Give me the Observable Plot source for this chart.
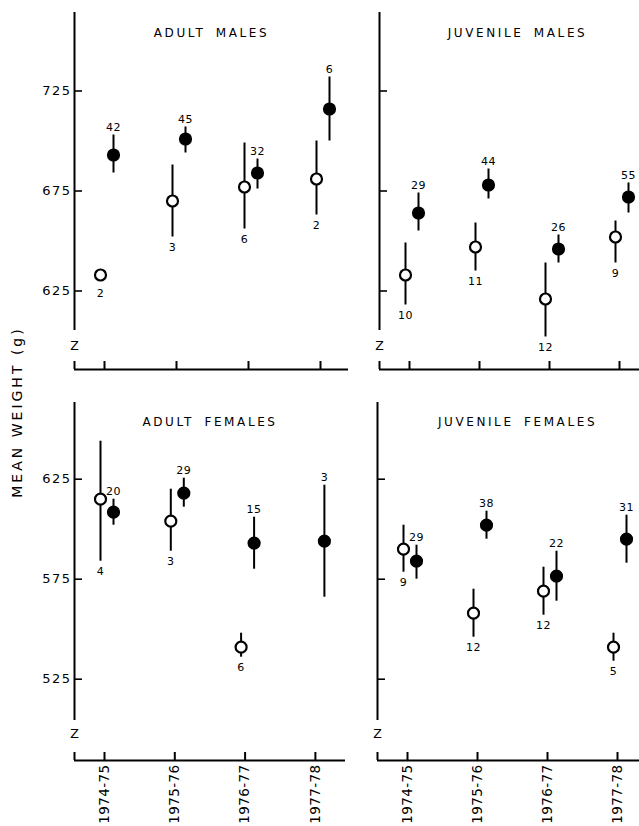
<!DOCTYPE html>
<html><head><meta charset="utf-8">
<script src="https://cdn.jsdelivr.net/npm/d3@7"></script>
<script src="https://cdn.jsdelivr.net/npm/@observablehq/plot@0.6"></script>
<style>
body{margin:0;background:#fff;}
#wrap{position:relative;width:639px;height:826px;overflow:hidden;font-family:"DejaVu Sans",sans-serif;color:#000;background:#fff;}
.panel{position:absolute;}
#ylab{position:absolute;left:17px;top:412px;transform:translate(-50%,-50%) rotate(-90deg);white-space:nowrap;font-size:14px;letter-spacing:3px;}
</style></head><body>
<div id="wrap"></div>
<script>
const years = ["1974-75", "1975-76", "1976-77", "1977-78"];
const panelTitles = ["ADULT MALES", "JUVENILE MALES", "ADULT FEMALES", "JUVENILE FEMALES"];
const yTicksTop = [625, 675, 725];
const yTicksBottom = [525, 575, 625];
const axisTitle = "MEAN WEIGHT (g)";

// Adult males — open circles
const amOpenMean = [633, 670, 677, 681];
const amOpenLow  = [633, 652, 656, 663];
const amOpenHigh = [633, 688, 699, 700];
const amOpenN    = [2, 3, 6, 2];
// Adult males — filled circles
const amFillMean = [693, 701, 684, 716];
const amFillLow  = [684, 694, 676, 700];
const amFillHigh = [703, 707, 691, 732];
const amFillN    = [42, 45, 32, 6];

// Juvenile males — open circles
const jmOpenMean = [633, 647, 621, 652];
const jmOpenLow  = [618, 635, 602, 639];
const jmOpenHigh = [649, 659, 639, 660];
const jmOpenN    = [10, 11, 12, 9];
// Juvenile males — filled circles
const jmFillMean = [664, 678, 646, 672];
const jmFillLow  = [655, 671, 639, 664];
const jmFillHigh = [674, 686, 653, 679];
const jmFillN    = [29, 44, 26, 55];

// Adult females — open circles
const afOpenMean = [615, 604, 541, null];
const afOpenLow  = [584, 589, 536, null];
const afOpenHigh = [644, 620, 548, null];
const afOpenN    = [4, 3, 6, null];
// Adult females — filled circles
const afFillMean = [608.5, 618, 593, 594];
const afFillLow  = [602, 611, 580, 566];
const afFillHigh = [615, 625.5, 606, 622];
const afFillN    = [20, 29, 15, 3];

// Juvenile females — open circles
const jfOpenMean = [590, 558, 569, 541];
const jfOpenLow  = [578.5, 546, 557, 534];
const jfOpenHigh = [602, 570, 581, 548];
const jfOpenN    = [9, 12, 12, 5];
// Juvenile females — filled circles
const jfFillMean = [584, 602, 576.5, 595];
const jfFillLow  = [575, 595, 564, 583];
const jfFillHigh = [592, 609, 589, 607];
const jfFillN    = [29, 38, 22, 31];

function rows(mean, low, high, n) {
  return years.map((y, i) => ({i, mean: mean[i], lo: low[i], hi: high[i], n: n[i]}))
    .filter(d => d.mean != null);
}

// pixel layout helpers (page px -> data value) for the top and bottom rows
const topVal = px => 675 + (190.5 - px) / 2;
const botVal = px => 575 + (578.7 - px) / 2;

const wrap = document.getElementById("wrap");

function spaceText(svg, size, spacing, wordSpacing) {
  svg.querySelectorAll(`g[font-size="${size}"] text`).forEach(t => {
    t.style.letterSpacing = spacing + "px";
    if (wordSpacing) t.style.wordSpacing = wordSpacing + "px";
  });
}

function panel(cfg) {
  const {open, fill, yTicks, left, top, width, height, mL, mR, mT, mB, xdom, ydom,
         lineEnd, breakAt, cornerTop, title, titleDx, titleDy, showY, showX} = cfg;
  const openOff = -4, fillOff = 9;
  const marks = [
    Plot.axisY(yTicks, {tickSize: -8, tickPadding: 11, strokeWidth: 1.6,
      tickFormat: showY ? d => String(d) : () => "", label: null, fontSize: 13}),
    Plot.axisX([0, 1, 2, 3], {tickSize: -8, tickPadding: 12, strokeWidth: 2,
      tickFormat: showX ? i => years[i] : () => "", tickRotate: showX ? -90 : 0, label: null, fontSize: 13.5}),
    Plot.ruleX([xdom[0]], {y1: () => ydom[1], y2: () => lineEnd, strokeWidth: 2}),
    Plot.ruleX([xdom[0]], {y1: () => ydom[0], y2: () => cornerTop, strokeWidth: 2}),
    Plot.ruleY([ydom[0]], {strokeWidth: 2}),
    Plot.text(["Z"], {x: () => xdom[0], y: () => breakAt, text: d => d, fontSize: 12.5}),
    Plot.text([title], {frameAnchor: "top", text: d => d, dx: titleDx, dy: titleDy, fontSize: 12}),
    // open circles
    Plot.ruleX(open.filter(d => d.hi > d.lo), {x: "i", y1: "lo", y2: "hi", dx: openOff, strokeWidth: 2}),
    Plot.dot(open, {x: "i", y: "mean", r: 5.5, fill: "white", stroke: "black", strokeWidth: 2.2, dx: openOff}),
    Plot.text(open, {x: "i", y: d => Math.min(d.lo, d.mean - 4), text: "n", dx: openOff, dy: 10, fontSize: 11}),
    // filled circles
    Plot.ruleX(fill.filter(d => d.hi > d.lo), {x: "i", y1: "lo", y2: "hi", dx: fillOff, strokeWidth: 2}),
    Plot.dot(fill, {x: "i", y: "mean", r: 5.5, fill: "black", stroke: "black", strokeWidth: 2.2, dx: fillOff}),
    Plot.text(fill, {x: "i", y: d => Math.max(d.hi, d.mean + 4), text: "n", dx: fillOff, dy: -8, fontSize: 11})
  ];
  const svg = Plot.plot({
    width, height, marginLeft: mL, marginRight: mR, marginTop: mT, marginBottom: mB,
    x: {type: "linear", domain: xdom},
    y: {type: "linear", domain: ydom},
    style: {fontFamily: "DejaVu Sans", color: "#000", background: "transparent", overflow: "visible"},
    marks
  });
  spaceText(svg, 12, 2.6, 4);     // panel titles
  spaceText(svg, 13, 1.5);        // y tick labels
  spaceText(svg, 13.5, 0.4);      // x tick labels
  spaceText(svg, 11, 0.5);        // n labels
  const div = document.createElement("div");
  div.className = "panel";
  div.style.left = left + "px";
  div.style.top = top + "px";
  div.style.width = width + "px";
  div.appendChild(svg);
  wrap.appendChild(div);
}

// top-left: Adult males
panel({
  open: rows(amOpenMean, amOpenLow, amOpenHigh, amOpenN),
  fill: rows(amFillMean, amFillLow, amFillHigh, amFillN),
  yTicks: yTicksTop, left: 0, top: 0, width: 350, height: 375,
  mL: 74, mR: 2, mT: 12, mB: 6,
  xdom: [-30 / 72, 244 / 72], ydom: [topVal(369), topVal(12)],
  lineEnd: topVal(330), breakAt: topVal(345), cornerTop: topVal(361),
  title: panelTitles[0], titleDx: 0, titleDy: 16, showY: true, showX: false
});
// top-right: Juvenile males
panel({
  open: rows(jmOpenMean, jmOpenLow, jmOpenHigh, jmOpenN),
  fill: rows(jmFillMean, jmFillLow, jmFillHigh, jmFillN),
  yTicks: yTicksTop, left: 360, top: 0, width: 279, height: 375,
  mL: 19, mR: 0, mT: 12, mB: 6,
  xdom: [-30 / 70, 230 / 70], ydom: [topVal(369), topVal(12)],
  lineEnd: topVal(330), breakAt: topVal(345), cornerTop: topVal(361),
  title: panelTitles[1], titleDx: 8, titleDy: 16, showY: false, showX: false
});
// bottom-left: Adult females
panel({
  open: rows(afOpenMean, afOpenLow, afOpenHigh, afOpenN),
  fill: rows(afFillMean, afFillLow, afFillHigh, afFillN),
  yTicks: yTicksBottom, left: 0, top: 390, width: 350, height: 436,
  mL: 74, mR: 5, mT: 12, mB: 66,
  xdom: [-30 / 70.3, 241 / 70.3], ydom: [botVal(760), botVal(402)],
  lineEnd: botVal(720), breakAt: botVal(733), cornerTop: botVal(752),
  title: panelTitles[2], titleDx: 0, titleDy: 15, showY: true, showX: true
});
// bottom-right: Juvenile females
panel({
  open: rows(jfOpenMean, jfOpenLow, jfOpenHigh, jfOpenN),
  fill: rows(jfFillMean, jfFillLow, jfFillHigh, jfFillN),
  yTicks: yTicksBottom, left: 360, top: 390, width: 279, height: 436,
  mL: 17, mR: 0, mT: 12, mB: 66,
  xdom: [-30 / 70, 232 / 70], ydom: [botVal(760), botVal(402)],
  lineEnd: botVal(720), breakAt: botVal(733), cornerTop: botVal(752),
  title: panelTitles[3], titleDx: 9, titleDy: 15, showY: false, showX: true
});

const ylab = document.createElement("div");
ylab.id = "ylab";
ylab.textContent = axisTitle;
wrap.appendChild(ylab);
</script>
</body></html>
